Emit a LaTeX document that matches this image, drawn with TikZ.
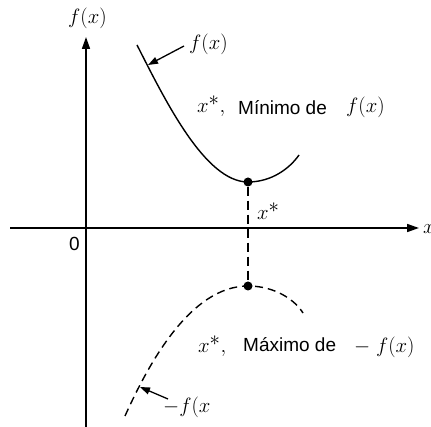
\documentclass[tikz,border=0pt]{standalone}
\usepackage{fontspec}
\newfontfamily\arialf{Liberation Sans}
\usetikzlibrary{arrows.meta}
\tikzset{
  mathlbl/.style={font=\fontsize{20}{22}\selectfont, inner sep=0pt, anchor=base west},
  txt/.style={font=\arialf\fontsize{19}{22}\selectfont, inner sep=0pt, anchor=base west},
  axis/.style={line width=1.6pt, -{Triangle[length=12pt,width=8pt]}},
  curve/.style={line width=1.4pt},
  dashcurve/.style={line width=1.4pt, dash pattern=on 8pt off 5pt},
  vdash/.style={line width=1.4pt, dash pattern=on 9pt off 5pt},
  pointer/.style={line width=1.3pt, -{Triangle[length=10pt,width=7pt]}},
  dot/.style={circle, fill=black, inner sep=0pt, minimum size=9pt}
}
\newcommand{\xst}{x^{\textstyle*}}
\begin{document}
\begin{tikzpicture}[x=1pt,y=-1pt]
\useasboundingbox[fill=white] (0,0) rectangle (431,427);
% axes
\coordinate (xl) at (10,228);
\coordinate (xr) at (419,228);
\coordinate (yb) at (86,430);
\coordinate (yt) at (86,37);
\draw[axis] (xl) -- (xr);
\draw[axis] (yb) -- (yt);
\node[mathlbl] (ylab) at (68,24) {$f(x)$};
\node[mathlbl] (xlab) at (423,234) {$x$};
\node[txt] (zero) at (69,251) {0};
% curves
\coordinate (a1) at (137,45);
\coordinate (a2) at (299,155);
\coordinate (b1) at (125,416);
\coordinate (b2) at (303,313);
\node[dot] (min) at (248,182) {};
\node[dot] (max) at (248,286) {};
\draw[curve] (a1) .. controls (165,100) and (205,182) .. (min.center)
  .. controls (272,182) and (290,168) .. (a2);
\draw[dashcurve] (b1) .. controls (148,365) and (190,286) .. (max.center)
  .. controls (275,286) and (295,300) .. (b2);
\draw[vdash] (min) -- (max);
% pointers
\coordinate (p1) at (148,65);
\coordinate (p1t) at (184,46);
\coordinate (p2) at (140,387);
\coordinate (p2t) at (168,399);
\draw[pointer] (p1t) -- (p1);
\draw[pointer] (p2t) -- (p2);
\node[mathlbl] (flab) at (189,50) {$f(x)$};
\node[mathlbl] (mflab) at (163,412) {$-f(x$};
% labels
\node[mathlbl] (xs0) at (257,220) {$\xst$};
\node[mathlbl] (xs1) at (197,113) {$\xst,$};
\node[txt] (minlbl) at (238,115) {Mínimo de};
\node[mathlbl] (fx1) at (346,113) {$f(x)$};
\node[mathlbl] (xs2) at (198,353) {$\xst,$};
\node[txt] (maxlbl) at (243,352) {Máximo de};
\node[mathlbl] (fx2) at (354,353) {$-\;f(x)$};
\end{tikzpicture}
\end{document}
